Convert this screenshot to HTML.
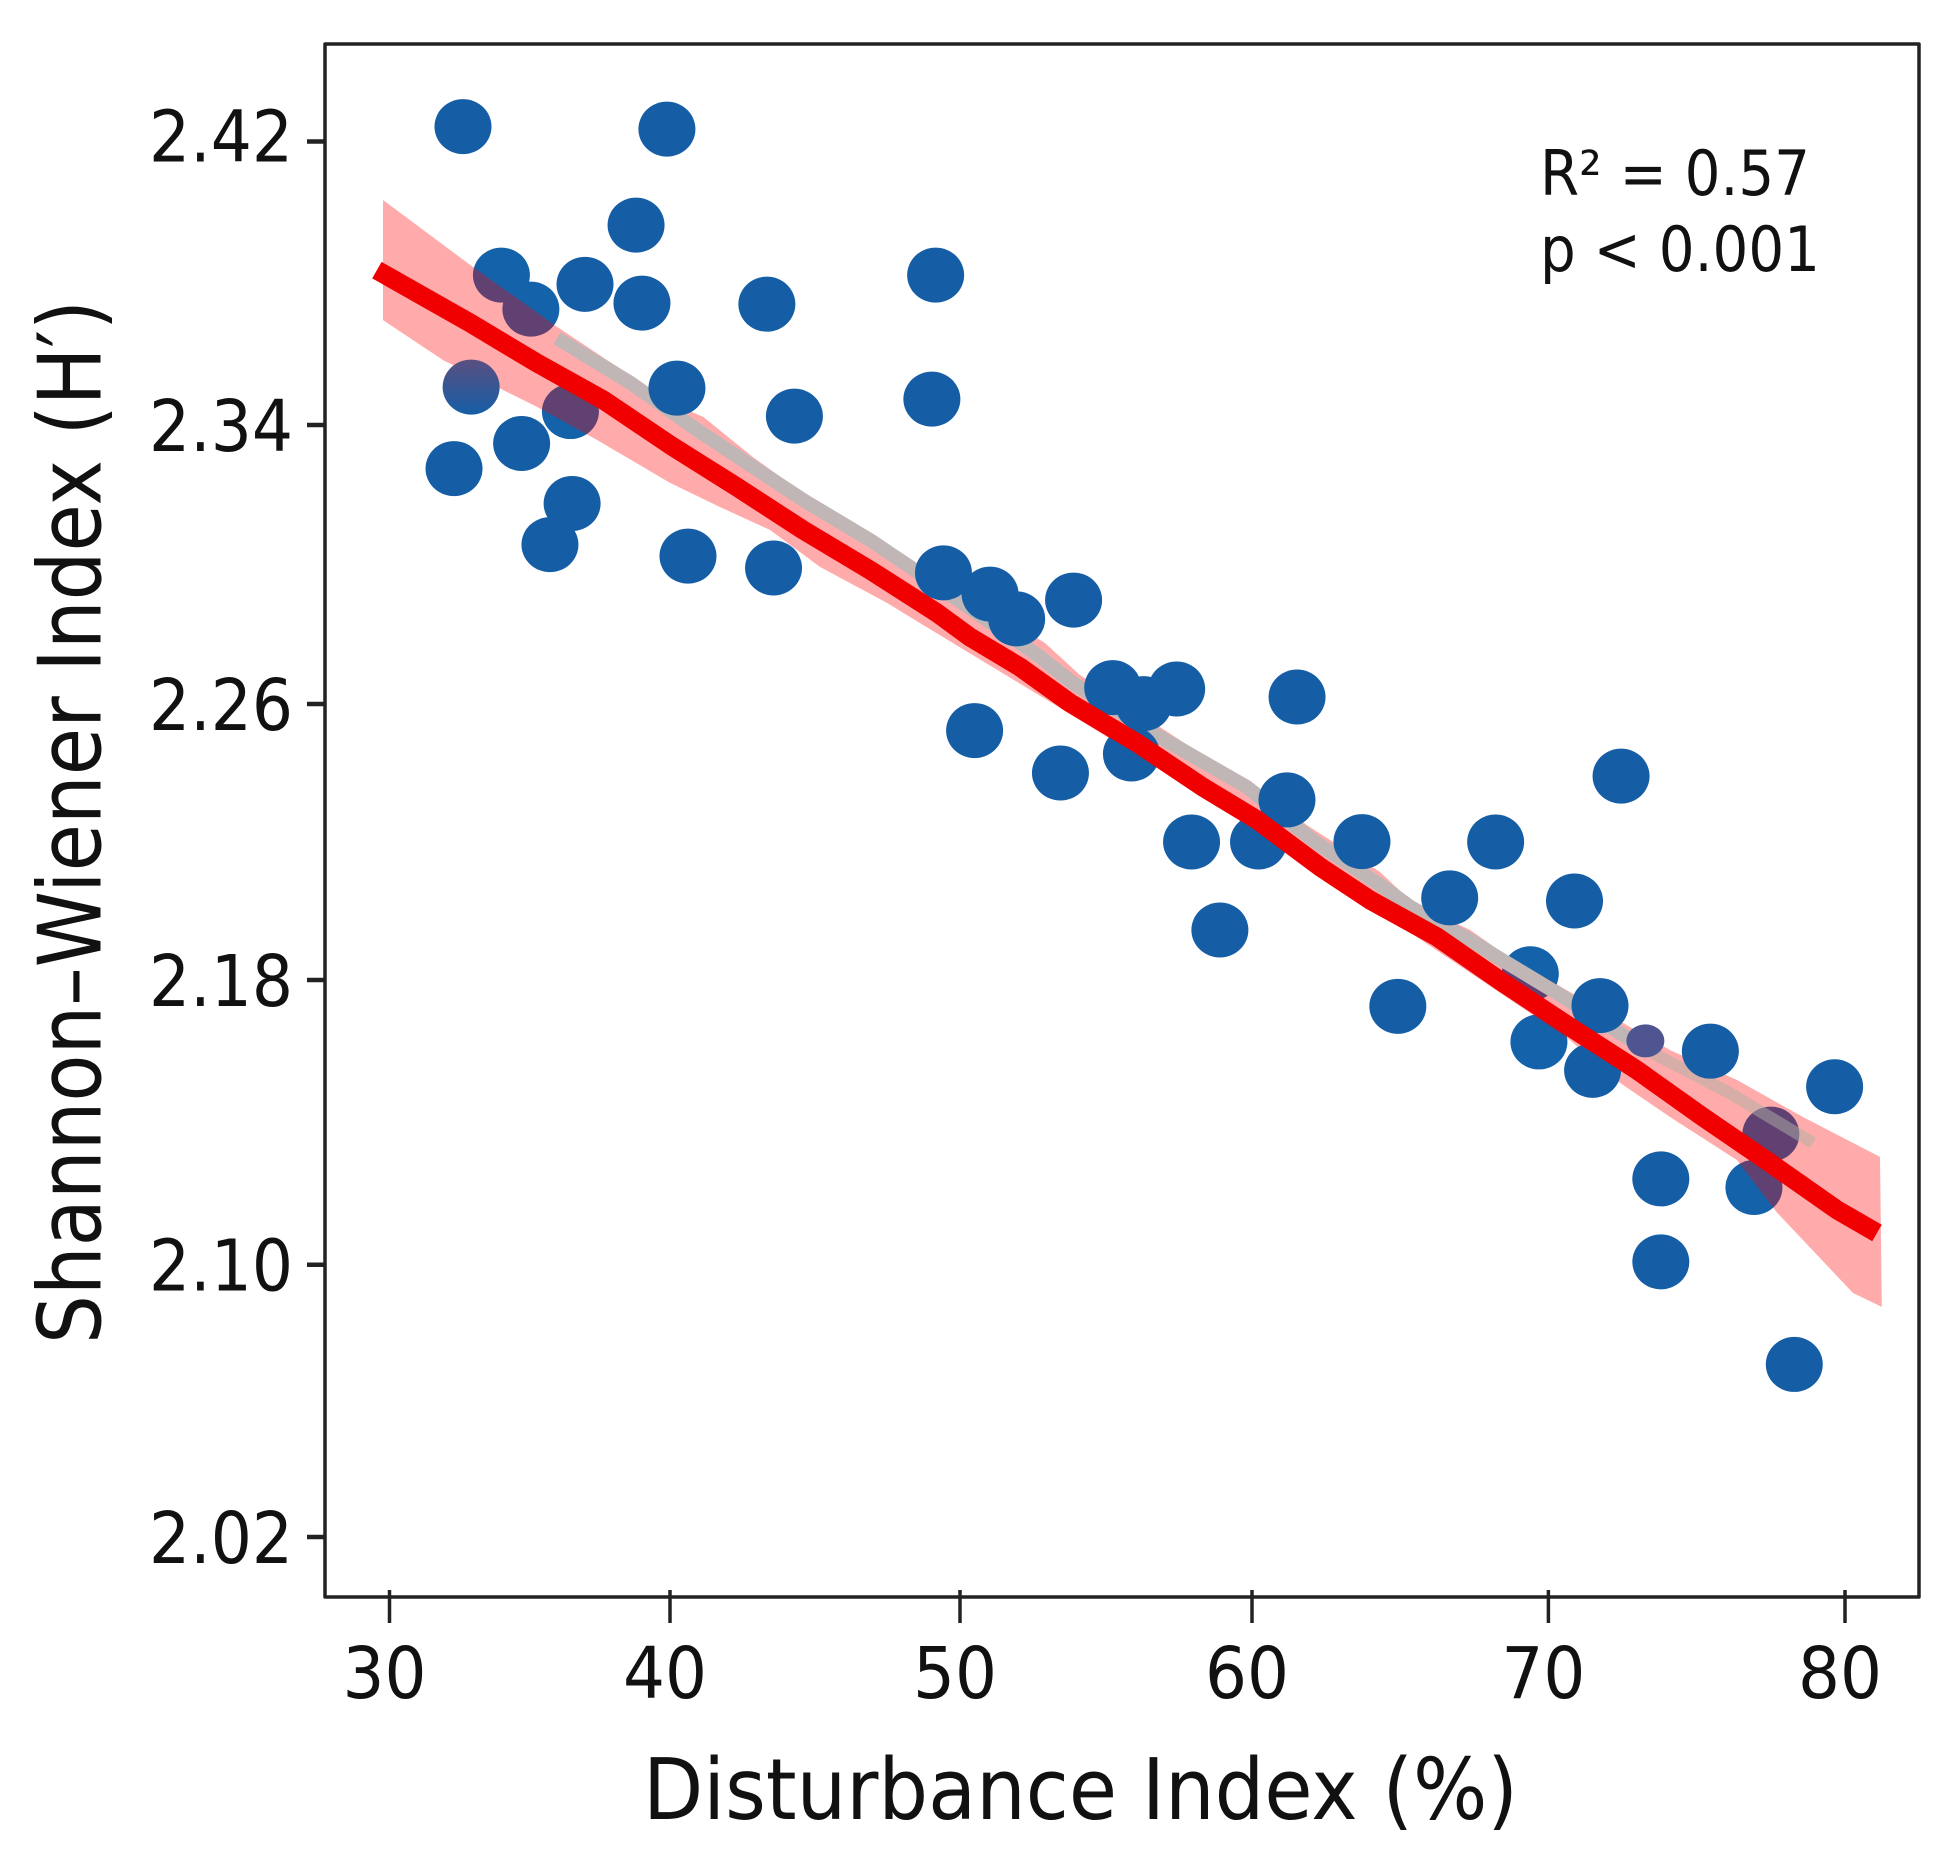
<!DOCTYPE html>
<html lang="en">
<head>
<meta charset="utf-8">
<title>Shannon-Wiener Index vs Disturbance Index</title>
<style>
html,body{margin:0;padding:0;background:#fff;width:1946px;height:1862px;overflow:hidden}
svg{display:block}
text{font-family:"DejaVu Sans","Liberation Sans",sans-serif;fill:#111}
</style>
</head>
<body>
<svg id="chart" width="1946" height="1862" viewBox="0 0 1946 1862" xmlns="http://www.w3.org/2000/svg">
  <defs>
    <linearGradient id="muted-point-fill" x1="0" y1="0" x2="0" y2="1">
      <stop offset="0" stop-color="#5a4f80"/>
      <stop offset="1" stop-color="#155EA6"/>
    </linearGradient>
  </defs>
  <rect x="0" y="0" width="1946" height="1862" fill="#fff"/>
  <g id="tinted-points"></g>
  <g id="band-layer"></g>
  <g id="gray-layer"></g>
  <g id="plain-points"></g>
  <g id="line-layer"></g>
  <rect x="325" y="44" width="1594" height="1553" fill="none" stroke="#222" stroke-width="3.5" stroke-linejoin="round"/>
  <g id="axes-layer"></g>
  <text x="1540" y="195" font-size="62" textLength="270" lengthAdjust="spacingAndGlyphs">R² = 0.57</text>
  <text x="1540" y="271" font-size="62" textLength="280" lengthAdjust="spacingAndGlyphs">p &lt; 0.001</text>
  <text x="643" y="1819" font-size="85" textLength="875" lengthAdjust="spacingAndGlyphs">Disturbance Index (%)</text>
  <text transform="translate(100.5,1344) rotate(-90)" font-size="87" textLength="1044" lengthAdjust="spacingAndGlyphs">Shannon–Wiener Index (H′)</text>
</svg>
<script>
const xTickLabels = ['30','40','50','60','70','80'];
const yTickLabels = ['2.42','2.34','2.26','2.18','2.10','2.02'];

const pointX = [32.62,39.89,38.79,33.99,36.97,35.04,39.0,43.34,49.16,32.91,40.24,36.45,34.71,32.30,49.03,44.29,36.51,35.72,40.62,43.57,49.43,50.50,51.03,51.94,53.89,55.23,56.29,57.42,53.44,55.87,61.52,61.18,57.93,60.22,63.71,68.22,66.67,70.88,72.45,58.9,64.92,69.39,71.74,69.68,71.49,73.27,75.46,79.65,77.5,73.79,76.93,73.79,78.29];
const pointY = [2.4242,2.4235,2.3964,2.3823,2.3797,2.3727,2.3744,2.3741,2.3823,2.3507,2.3504,2.3438,2.3347,2.3275,2.3473,2.3425,2.3175,2.3057,2.3024,2.2990,2.2976,2.2523,2.2915,2.2844,2.2898,2.2647,2.2601,2.2643,2.24,2.2455,2.262,2.2322,2.22,2.22,2.2201,2.22,2.2038,2.2029,2.2391,2.1945,2.1726,2.1818,2.1728,2.1626,2.1546,2.1629,2.16,2.15,2.1367,2.1241,2.1217,2.1008,2.0707];

const lineX = [29.55,32.87,35.26,37.61,40,42.31,44.59,46.9,49.21,50.34,52.05,53.77,56.06,58.32,60.17,62.29,63.98,66.24,68.47,70.73,72.98,75.21,77.47,79.73,81.08];
const lineY = [2.3837,2.3688,2.3575,2.3471,2.3343,2.3222,2.3099,2.2984,2.2861,2.2792,2.2706,2.2603,2.2487,2.2359,2.2264,2.2128,2.2032,2.1925,2.1792,2.1668,2.1547,2.1415,2.1286,2.1154,2.1089];

const bandUpperX = [29.77,32.87,35.97,38.82,40,41.14,42.86,44.59,46.9,48.38,52.91,54.11,56.85,60.17,61.96,64.32,65.44,67.36,68.47,72.75,74.1,76.36,78.58,81.18];
const bandUpperY = [2.4035,2.3852,2.3677,2.3527,2.3462,2.3423,2.3308,2.3205,2.309,2.3004,2.2775,2.2683,2.2533,2.2351,2.2243,2.2113,2.2023,2.1945,2.1878,2.1668,2.1603,2.1519,2.1415,2.1303];
const bandLowerX = [29.77,31.91,35.26,37.4,40,41.72,43.45,45.17,47.48,48.62,53.77,60.17,68.47,70.73,72.41,74.1,76.36,77.71,80.27,81.24];
const bandLowerY = [2.3696,2.3583,2.3451,2.3357,2.3234,2.3165,2.3099,2.2993,2.289,2.2832,2.2571,2.2235,2.1758,2.1631,2.1511,2.1415,2.1294,2.1146,2.0917,2.0876];

const grayX = [35.97,38.57,40.93,42.66,44.59,46.9,48.28,52.74,53.87,56.85,59.83,62.06,64.42,65.34,67.36,68.27,70.39,73.32];
const grayY = [2.3645,2.352,2.3386,2.3291,2.3185,2.307,2.2993,2.2735,2.266,2.2504,2.2359,2.2205,2.207,2.2012,2.1916,2.1867,2.1758,2.1603];
const grayTailX = [73.32,76.12,78.92];
const grayTailY = [2.1603,2.1482,2.1342];

const underBandPoints = [3,5,11,41,43,48,50];
const mutedPoint = 9;
const smallPoint = 45;

const NS = 'http://www.w3.org/2000/svg';

function knotScale(domain, range) {
  return function (v) {
    let i = 0;
    while (i < domain.length - 2 && ((domain[1] > domain[0]) ? v > domain[i + 1] : v < domain[i + 1])) i++;
    const t = (v - domain[i]) / (domain[i + 1] - domain[i]);
    return range[i] + t * (range[i + 1] - range[i]);
  };
}
const xScale = knotScale(xTickLabels.map(Number), [389.5, 670, 960, 1252, 1548.4, 1845]);
const yScale = knotScale(yTickLabels.map(Number), [141.5, 425, 704, 980, 1264.7, 1537]);

function make(tag, parent) {
  const el = document.createElementNS(NS, tag);
  parent.appendChild(el);
  return el;
}
function pathFrom(xs, ys) {
  return xs.map((x, i) => (i ? 'L' : 'M') + xScale(x).toFixed(1) + ' ' + yScale(ys[i]).toFixed(1)).join(' ');
}
function pointFill(i, under) {
  if (i === mutedPoint) return 'url(#muted-point-fill)';
  if (i === smallPoint) return '#4f5590';
  return under ? '#1462aa' : '#155EA6';
}

const tintedLayer = document.getElementById('tinted-points');
const plainLayer = document.getElementById('plain-points');
pointX.forEach(function (x, i) {
  const under = underBandPoints.indexOf(i) >= 0;
  const dot = make('ellipse', under ? tintedLayer : plainLayer);
  
  
  dot.setAttribute('cx', xScale(x));
  dot.setAttribute('cy', yScale(pointY[i]));
  dot.setAttribute('rx', i === smallPoint ? 19 : 28.5);
  dot.setAttribute('ry', i === smallPoint ? 16.5 : 27.5);
  dot.setAttribute('fill', pointFill(i, under));
});

const band = make('path', document.getElementById('band-layer'));


band.setAttribute('d', pathFrom(bandUpperX, bandUpperY) + ' ' +
  pathFrom(bandLowerX.slice().reverse(), bandLowerY.slice().reverse()).replace('M', 'L') + ' Z');
band.setAttribute('fill', 'rgba(255,0,0,0.33)');

const gray = make('path', document.getElementById('gray-layer'));


gray.setAttribute('d', pathFrom(grayX, grayY));
gray.setAttribute('fill', 'none');
gray.setAttribute('stroke', '#c0b6b6');
gray.setAttribute('stroke-width', '14');
gray.setAttribute('stroke-linejoin', 'round');

const grayTail = make('path', document.getElementById('gray-layer'));


grayTail.setAttribute('d', pathFrom(grayTailX, grayTailY));
grayTail.setAttribute('fill', 'none');
grayTail.setAttribute('stroke', 'rgba(175,175,165,0.5)');
grayTail.setAttribute('stroke-width', '12');
grayTail.setAttribute('stroke-linejoin', 'round');

const red = make('path', document.getElementById('line-layer'));


red.setAttribute('d', pathFrom(lineX, lineY));
red.setAttribute('fill', 'none');
red.setAttribute('stroke', '#f00000');
red.setAttribute('stroke-width', '19');
red.setAttribute('stroke-linejoin', 'round');

const axes = document.getElementById('axes-layer');
xTickLabels.forEach(function (label) {
  const px = xScale(Number(label));
  const tick = make('line', axes);
  
  
  tick.setAttribute('x1', px);
  tick.setAttribute('x2', px);
  tick.setAttribute('y1', 1590);
  tick.setAttribute('y2', 1623);
  tick.setAttribute('stroke', '#222');
  tick.setAttribute('stroke-width', '3.5');
  const text = make('text', axes);
  
  
  text.setAttribute('x', px - 47);
  text.setAttribute('y', 1698);
  text.setAttribute('font-size', '71');
  text.setAttribute('textLength', '84');
  text.setAttribute('lengthAdjust', 'spacingAndGlyphs');
  text.textContent = label;
});
yTickLabels.forEach(function (label) {
  const py = yScale(Number(label));
  const tick = make('line', axes);
  
  
  tick.setAttribute('x1', 307);
  tick.setAttribute('x2', 325);
  tick.setAttribute('y1', py);
  tick.setAttribute('y2', py);
  tick.setAttribute('stroke', '#222');
  tick.setAttribute('stroke-width', '4.5');
  const text = make('text', axes);
  
  
  text.setAttribute('x', 149);
  text.setAttribute('y', py + (label === '2.42' ? 20 : 26));
  text.setAttribute('font-size', '71');
  text.setAttribute('textLength', '144');
  text.setAttribute('lengthAdjust', 'spacingAndGlyphs');
  text.textContent = label;
});
</script>
</body>
</html>
